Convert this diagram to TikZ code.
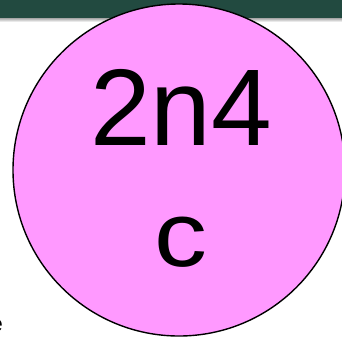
\documentclass[tikz,border=0pt]{standalone}
\usepackage{fontspec}
\setmainfont{Liberation Sans}
\usetikzlibrary{positioning}

\definecolor{barGreen}{RGB}{34,74,64}
\definecolor{cellPink}{RGB}{255,153,255}

\begin{document}
\begin{tikzpicture}[
      x=1pt, y=-1pt,
      cell/.style={circle, draw=black, line width=1.4pt, fill=cellPink, minimum size=332pt, inner sep=0pt},
      label/.style={inner sep=0pt, anchor=base, font=\fontsize{109}{120}\selectfont},
      edge/.style={inner sep=0pt, anchor=base east, font=\fontsize{22}{26}\selectfont}
    ]
    \useasboundingbox (0,0) rectangle (342,338);
    \fill[white] (0,0) rectangle (342,338);
    \fill[barGreen] (0,0) rectangle (342,18);
    \shade[top color=gray!70, bottom color=white] (0,18) rectangle (342,22);

    \node[edge] (stub) at (3,331) {e};

    \node[cell] (cell) at (179,170) {};
    \node[label] (name) at (181,145) {2n4};
    \node[label, below=121pt of name.base, anchor=base, font=\fontsize{92}{100}\selectfont, xscale=1.15] (kind) {c};
  \end{tikzpicture}
\end{document}
